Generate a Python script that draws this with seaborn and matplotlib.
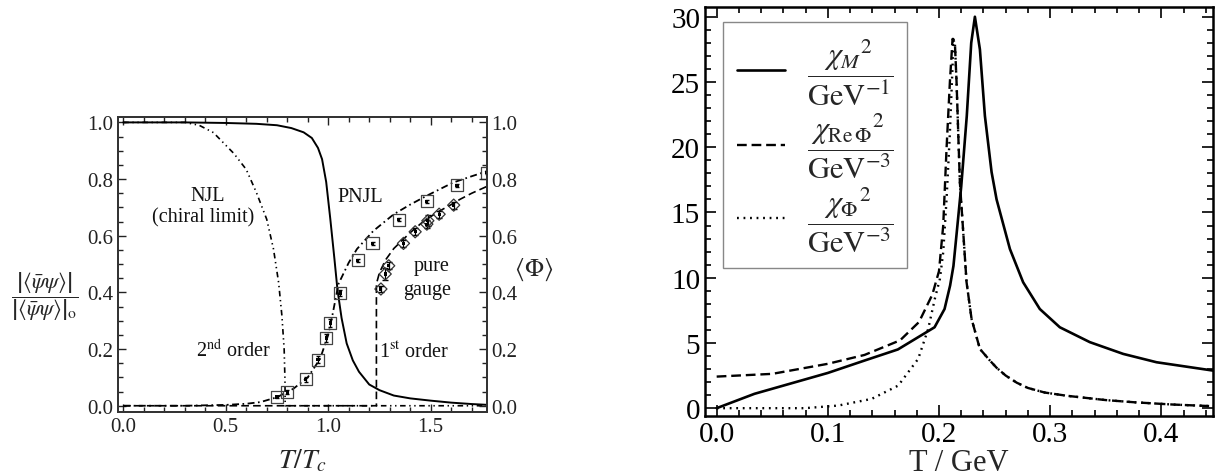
import numpy as np
import pandas as pd
import matplotlib
matplotlib.use("Agg")
import matplotlib.pyplot as plt
import seaborn as sns
from matplotlib.ticker import MultipleLocator

# ---------------- data: left panel ----------------
# PNJL chiral condensate (solid)
pnjl_sigma_T = [0.0, 0.3, 0.5, 0.65, 0.75, 0.82, 0.88, 0.92, 0.95, 0.97, 0.99, 1.01, 1.03,
                1.045, 1.065, 1.09, 1.12, 1.15, 1.2, 1.25, 1.32, 1.4, 1.5, 1.6, 1.7, 1.78]
pnjl_sigma = [1.0, 1.0, 0.998, 0.995, 0.99, 0.98, 0.965, 0.945, 0.91, 0.87, 0.79, 0.66, 0.52,
              0.41, 0.31, 0.22, 0.16, 0.12, 0.075, 0.055, 0.036, 0.026, 0.018, 0.011, 0.006, 0.003]
# NJL chiral limit condensate (dash-dot-dot)
njl_T = [0.0, 0.3, 0.37, 0.44, 0.54, 0.6, 0.65, 0.7, 0.733, 0.758, 0.774, 0.785, 0.789, 0.79, 1.2, 1.78]
njl_sigma = [1.0, 1.0, 0.99, 0.964, 0.89, 0.834, 0.752, 0.658, 0.553, 0.435, 0.318, 0.2, 0.09, 0.0, 0.0, 0.0]
# PNJL Polyakov loop (dash-dot)
pnjl_phi_T = [0.0, 0.3, 0.5, 0.6, 0.67, 0.75, 0.83, 0.9, 0.96, 1.0, 1.02, 1.05, 1.1, 1.14,
              1.22, 1.32, 1.4, 1.48, 1.56, 1.61, 1.7, 1.78]
pnjl_phi = [0.0, 0.0, 0.003, 0.007, 0.013, 0.03, 0.06, 0.1, 0.165, 0.25, 0.318, 0.43, 0.505, 0.553,
            0.617, 0.676, 0.71, 0.741, 0.77, 0.788, 0.81, 0.829]
# pure gauge Polyakov loop (dashed)
gauge_T = [0.0, 1.235, 1.235, 1.25, 1.28, 1.32, 1.4, 1.46, 1.53, 1.6, 1.644, 1.7, 1.78]
gauge_phi = [0.0, 0.0, 0.43, 0.47, 0.515, 0.555, 0.611, 0.648, 0.682, 0.71, 0.729, 0.75, 0.776]
# lattice data: full QCD (squares) and pure gauge (diamonds)
sq_T = [0.75, 0.80, 0.891, 0.95, 0.99, 1.01, 1.059, 1.143, 1.216, 1.343, 1.481, 1.628, 1.774]
sq_phi = [0.031, 0.048, 0.093, 0.162, 0.239, 0.292, 0.398, 0.514, 0.574, 0.656, 0.721, 0.778, 0.823]
sq_err = [0.005, 0.006, 0.008, 0.012, 0.015, 0.015, 0.01, 0.005, 0.005, 0.005, 0.005, 0.006, 0.006]
dia_T = [1.257, 1.278, 1.295, 1.367, 1.424, 1.481, 1.486, 1.541, 1.612]
dia_phi = [0.412, 0.465, 0.494, 0.573, 0.614, 0.641, 0.653, 0.676, 0.708]
dia_err = [0.01, 0.02, 0.012, 0.012, 0.012, 0.015, 0.02, 0.012, 0.012]

# ---------------- data: right panel ----------------
chiM_T = [0.0, 0.034, 0.1, 0.133, 0.163, 0.196, 0.205, 0.21, 0.213, 0.216, 0.22, 0.225, 0.229,
          0.2323, 0.2368, 0.2413, 0.2473, 0.2518, 0.2638, 0.2757, 0.2907, 0.3087, 0.3357, 0.3657,
          0.3957, 0.4466]
chiM = [0.0, 1.1, 2.7, 3.65, 4.5, 6.2, 7.6, 9.4, 10.9, 13.5, 17.0, 22.4, 28.0, 30.0, 27.5, 22.4,
        18.1, 16.0, 12.2, 9.65, 7.6, 6.2, 5.06, 4.16, 3.52, 2.88]
chiRe_T = [0.0, 0.05, 0.1, 0.133, 0.165, 0.182, 0.194, 0.2, 0.2038, 0.2068, 0.2098, 0.2122,
           0.2143, 0.2158, 0.2173, 0.2188, 0.2218, 0.2248, 0.2293, 0.2368, 0.2458, 0.2518, 0.26,
           0.27, 0.28, 0.295, 0.315, 0.35, 0.376, 0.41, 0.4466]
chiRe = [2.42, 2.63, 3.4, 4.08, 5.2, 6.6, 8.7, 10.5, 14.0, 19.9, 25.0, 28.3, 28.0, 25.0, 21.1,
         17.3, 13.5, 9.65, 6.84, 4.54, 3.65, 3.1, 2.5, 1.95, 1.55, 1.2, 0.95, 0.62, 0.45, 0.28, 0.15]
chiPhi_T = [0.0, 0.0794, 0.1094, 0.1394, 0.1633, 0.1813, 0.1903, 0.1963, 0.2008, 0.2038, 0.2068,
            0.2098, 0.2122, 0.2128, 0.2143, 0.2158, 0.2173, 0.2188, 0.2218, 0.2248, 0.2293, 0.2368,
            0.2458, 0.2518, 0.26, 0.27, 0.28, 0.295, 0.315, 0.35, 0.376, 0.41, 0.4466]
chiPhi = [0.0, 0.0, 0.2, 0.71, 1.73, 3.78, 6.08, 8.4, 9.9, 11.95, 16.0, 21.1, 26.25, 28.3, 28.0,
          25.0, 21.1, 17.3, 13.5, 9.65, 6.84, 4.54, 3.65, 3.1, 2.5, 1.95, 1.55, 1.2, 0.95, 0.62,
          0.45, 0.28, 0.15]

legend_labels = [r"$\dfrac{\chi_M{}^2}{\mathrm{GeV}^{-1}}\hspace{0.6}$",
                 r"$\dfrac{\chi_{\mathrm{Re}\,\Phi}{}^2}{\mathrm{GeV}^{-3}}\hspace{0.6}$",
                 r"$\dfrac{\chi_{\Phi}{}^2}{\mathrm{GeV}^{-3}}\hspace{0.6}$"]

# ---------------- style ----------------
sns.set_style("ticks")
plt.rcParams["font.family"] = ["Liberation Serif", "DejaVu Serif"]
plt.rcParams["mathtext.fontset"] = "stix"
plt.rcParams["lines.scale_dashes"] = False

W, H = 1226, 477
fig = plt.figure(figsize=(W / 100, H / 100), dpi=100)


def px_axes(l, t, r, b):
    return fig.add_axes([l / W, 1 - b / H, (r - l) / W, (b - t) / H])


axL = px_axes(118.3, 118.3, 486.7, 412.7)
axR = px_axes(705, 7.7, 1213, 417)

# ---------------- left panel ----------------
sns.lineplot(x=pnjl_sigma_T, y=pnjl_sigma, ax=axL, color="black", lw=1.4,
             sort=False, estimator=None)
sns.lineplot(x=njl_T, y=njl_sigma, ax=axL, color="black", lw=1.2, sort=False, estimator=None,
             linestyle=(0, (4, 2.6, 1, 2.6, 1, 2.6)))
sns.lineplot(x=pnjl_phi_T, y=pnjl_phi, ax=axL, color="black", lw=1.3, sort=False, estimator=None,
             linestyle=(0, (5, 2.5, 1.2, 2.5)))
sns.lineplot(x=gauge_T, y=gauge_phi, ax=axL, color="black", lw=1.2, sort=False, estimator=None,
             linestyle=(0, (5.5, 3)))

axL.errorbar(sq_T, sq_phi, yerr=sq_err, fmt="none", ecolor="black", elinewidth=0.9, capsize=1.5,
             zorder=3)
axL.errorbar(dia_T, dia_phi, yerr=dia_err, fmt="none", ecolor="black", elinewidth=0.9,
             capsize=2.0, zorder=3)
sns.scatterplot(x=sq_T, y=sq_phi, ax=axL, marker="s", s=75, facecolors="none",
                edgecolor="#444444", linewidth=0.9, zorder=4)
sns.scatterplot(x=dia_T, y=dia_phi, ax=axL, marker="D", s=38, facecolors="none",
                edgecolor="#333333", linewidth=0.9, zorder=4)
sns.scatterplot(x=sq_T + dia_T, y=sq_phi + dia_phi, ax=axL, marker="s", s=5, color="black",
                edgecolor="none", zorder=5)

axL.set_xlim(-0.024, 1.773)
axL.set_ylim(-0.021, 1.018)
axL.set_xticks([0.0, 0.5, 1.0, 1.5])
axL.set_yticks([0.0, 0.2, 0.4, 0.6, 0.8, 1.0])
axL.xaxis.set_minor_locator(MultipleLocator(0.1))
axL.yaxis.set_minor_locator(MultipleLocator(0.05))
axL.set_xticklabels(["0.0", "0.5", "1.0", "1.5"])
axL.set_yticklabels(["0.0", "0.2", "0.4", "0.6", "0.8", "1.0"])

axL2 = axL.twinx()
axL2.set_ylim(axL.get_ylim())
axL2.set_yticks([0.0, 0.2, 0.4, 0.6, 0.8, 1.0])
axL2.set_yticklabels(["0.0", "0.2", "0.4", "0.6", "0.8", "1.0"])
axL2.yaxis.set_minor_locator(MultipleLocator(0.05))

for a in (axL, axL2):
    a.tick_params(which="both", direction="in", top=True, colors="#222222", labelsize=15,
                  width=1.0)
    a.tick_params(which="major", length=6)
    a.tick_params(which="minor", length=3.5)
    for s in a.spines.values():
        s.set_linewidth(1.3)
        s.set_color("#333333")
axL.tick_params(which="both", right=False, labelcolor="#222222")
axL2.tick_params(which="both", left=False, right=True, labelcolor="#222222")

axL.set_xlabel(r"$T/T_c$", fontsize=20, labelpad=8)
axL.set_ylabel(r"$\dfrac{\left|\langle\bar{\psi}\psi\rangle\right|}"
               r"{\left|\langle\bar{\psi}\psi\rangle\right|_{\mathrm{o}}}$",
               rotation=0, fontsize=16, ha="center", va="center")
axL.yaxis.set_label_coords(-0.199, 0.393)
axL2.set_ylabel(r"$\langle\Phi\rangle$", rotation=0, fontsize=18, ha="center", va="center")
axL2.yaxis.set_label_coords(1.126, 0.485)

tkw = dict(fontsize=14.5, ha="center", va="center", color="#111111")
axL.text(0.413, 0.741, "NJL", **tkw)
axL.text(0.39, 0.666, "(chiral limit)", **tkw)
axL.text(1.155, 0.74, "PNJL", **tkw)
axL.text(0.535, 0.194, r"2$^{\mathrm{nd}}$ order", **tkw)
axL.text(1.418, 0.194, r"1$^{\mathrm{st}}$ order", **tkw)
axL.text(1.504, 0.494, "pure", **tkw)
axL.text(1.48, 0.412, "gauge", **tkw)

# ---------------- right panel ----------------
sns.lineplot(x=chiM_T, y=chiM, ax=axR, color="black", lw=1.9, sort=False, estimator=None,
             label=legend_labels[0])
sns.lineplot(x=chiRe_T, y=chiRe, ax=axR, color="black", lw=1.7, sort=False, estimator=None,
             linestyle=(0, (7, 3.5)), label=legend_labels[1])
sns.lineplot(x=chiPhi_T, y=chiPhi, ax=axR, color="black", lw=1.7, sort=False, estimator=None,
             linestyle=(0, (1.3, 3.4)), label=legend_labels[2])

axR.set_xlim(-0.0105, 0.4465)
axR.set_ylim(-0.6, 30.77)
axR.set_xticks([0.0, 0.1, 0.2, 0.3, 0.4])
axR.set_xticklabels(["0.0", "0.1", "0.2", "0.3", "0.4"])
axR.set_yticks([0, 5, 10, 15, 20, 25, 30])
axR.xaxis.set_minor_locator(MultipleLocator(0.02))
axR.yaxis.set_minor_locator(MultipleLocator(1))
axR.tick_params(which="both", direction="in", top=True, right=True, colors="black",
                labelsize=21, width=1.2)
axR.tick_params(which="major", length=8)
axR.tick_params(which="minor", length=4)
for s in axR.spines.values():
    s.set_linewidth(1.8)
    s.set_color("black")
axR.set_xlabel("T / GeV", fontsize=22, labelpad=1)

leg = axR.legend(loc="upper left", bbox_to_anchor=(0.035, 0.962), borderaxespad=0,
                 fontsize=22, handlelength=1.57, handletextpad=0.72, borderpad=0.45,
                 labelspacing=0.12, fancybox=False, framealpha=1)
leg.get_frame().set_edgecolor("#888888")
leg.get_frame().set_linewidth(1.0)

fig.savefig("out.png", dpi=100)
